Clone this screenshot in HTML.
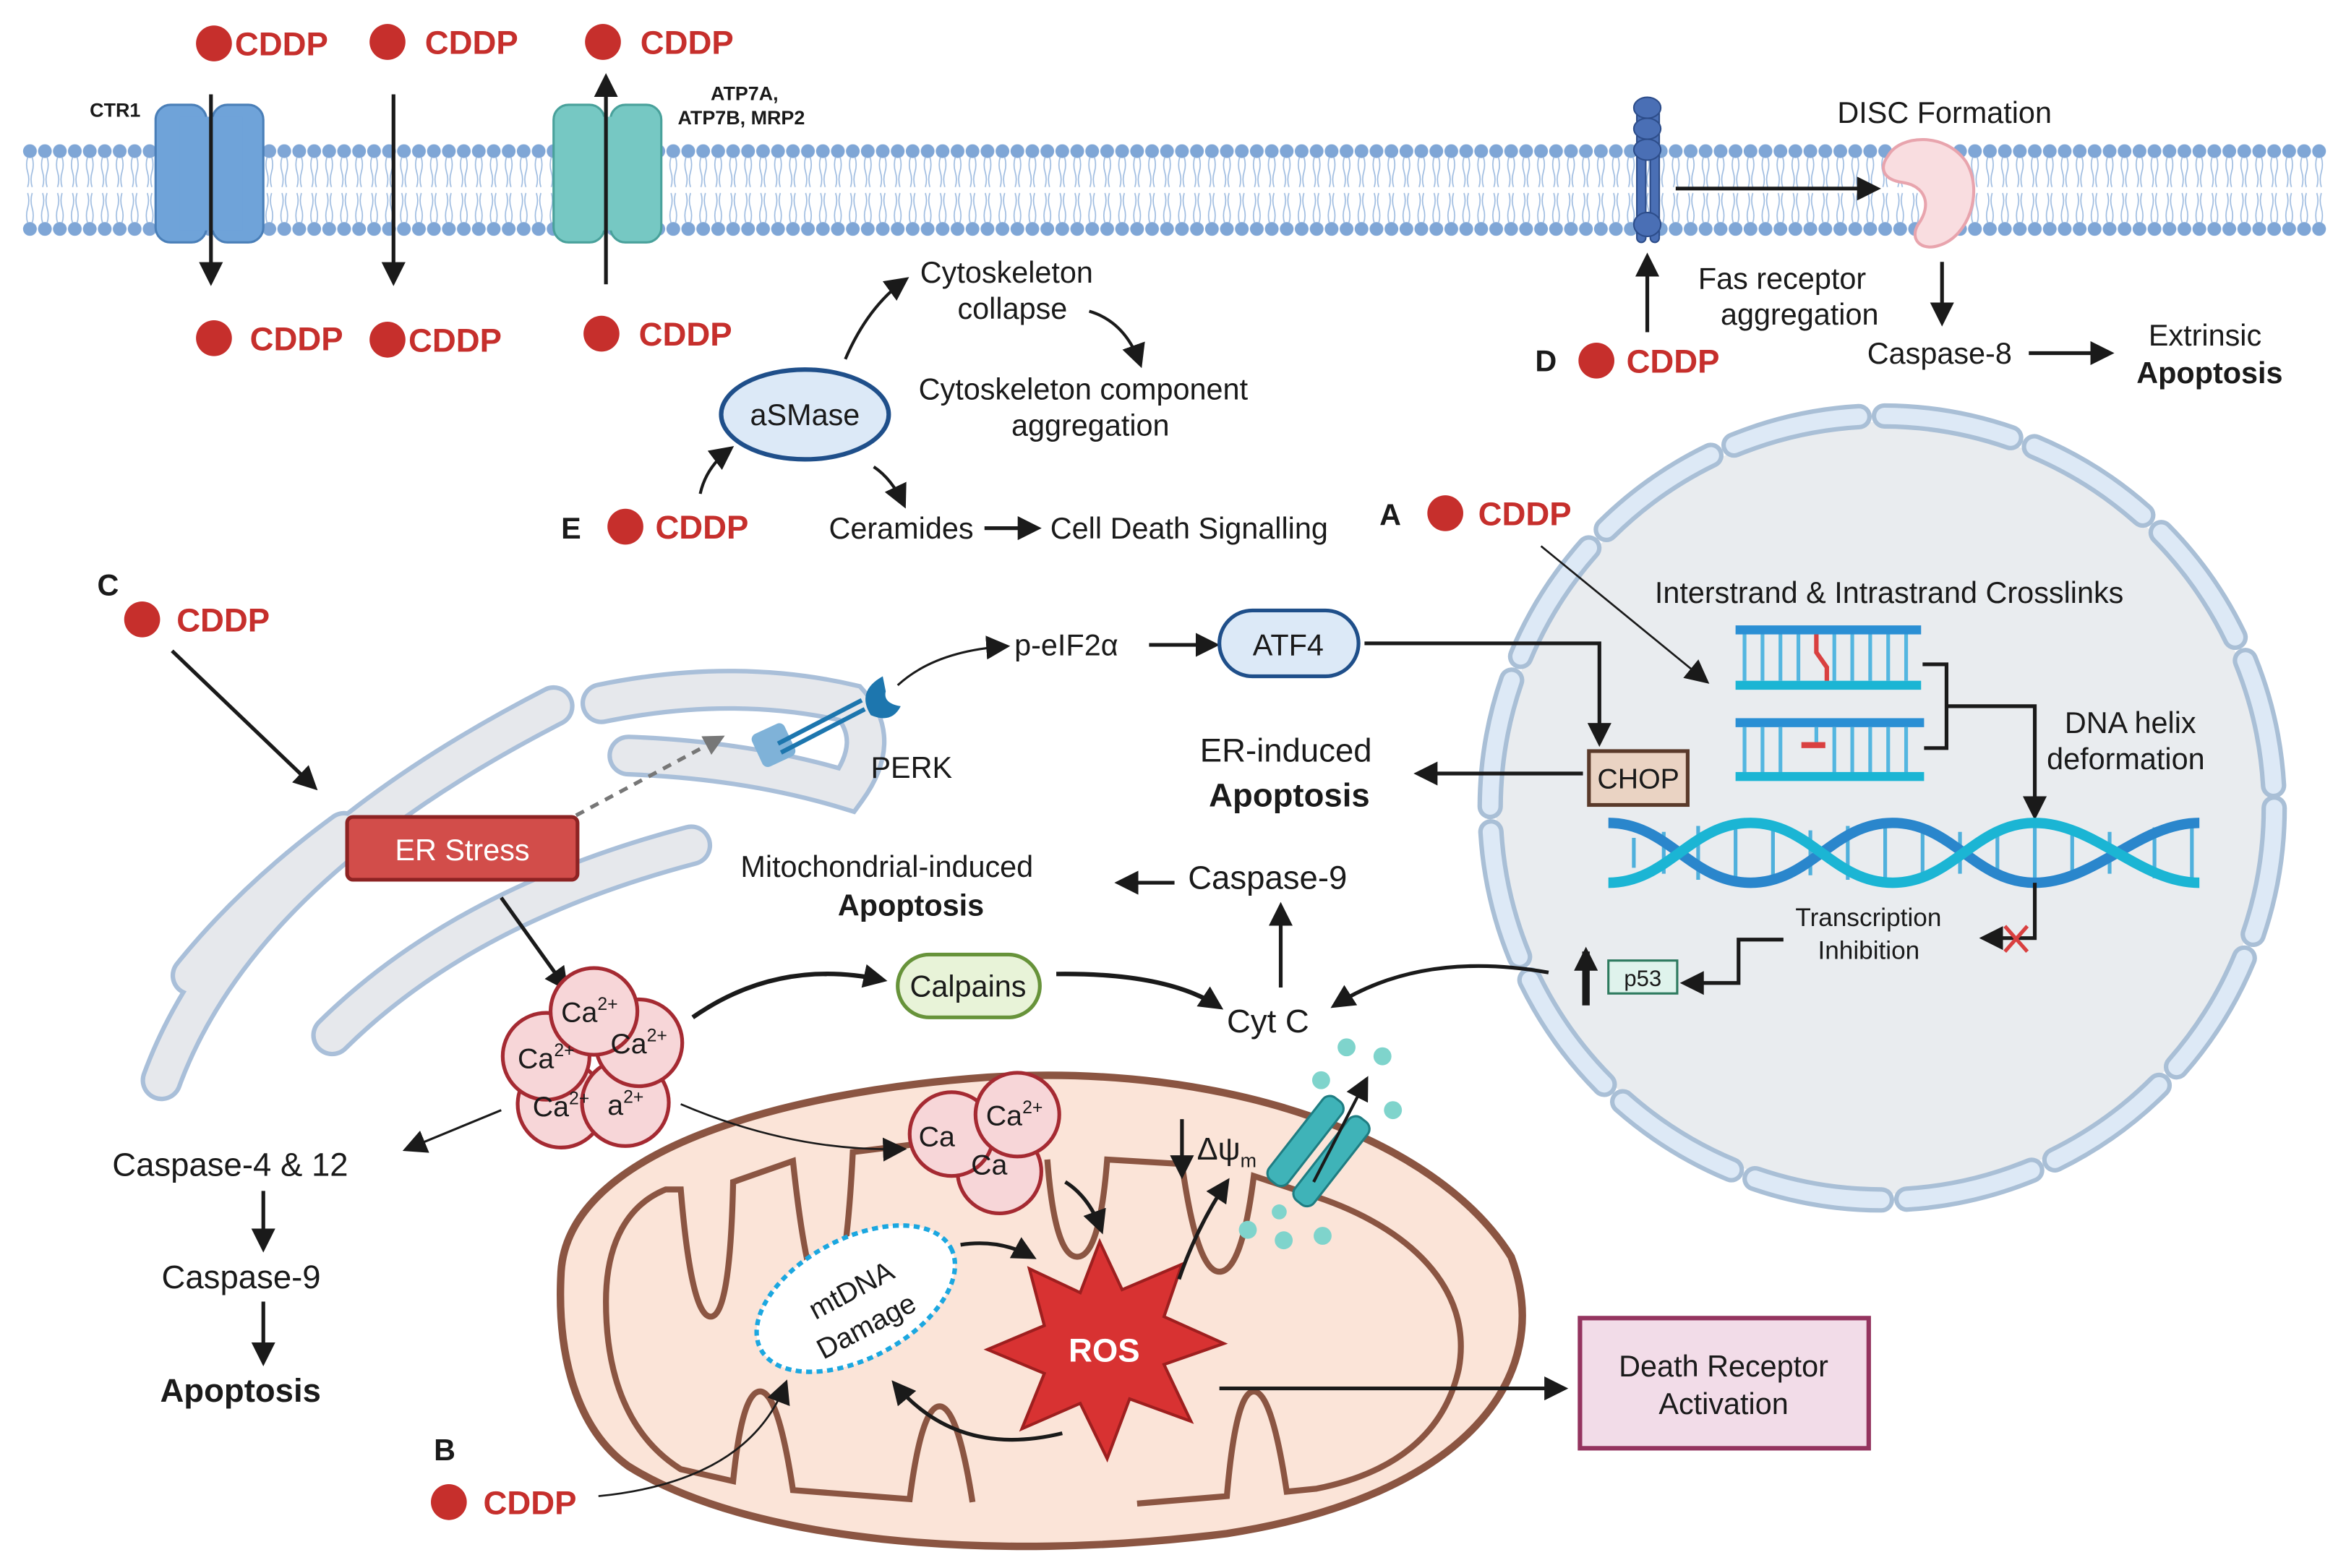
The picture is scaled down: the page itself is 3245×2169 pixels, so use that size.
<!DOCTYPE html>
<html><head><meta charset="utf-8"><style>
html,body{margin:0;padding:0;background:#fff;}
svg{display:block;}
text{font-family:"Liberation Sans",Arial,sans-serif;fill:#1a1a1a;}
.c{fill:#c62f2c;font-weight:bold;font-size:22px;}
.t{font-size:20px;}
.b{font-weight:bold;}
</style></head><body>
<svg width="3245" height="2169" viewBox="0 0 1568 1048" xmlns="http://www.w3.org/2000/svg">
<defs>
<marker id="a2" viewBox="0 0 10 10" markerWidth="16" markerHeight="16" refX="8" refY="5" orient="auto" markerUnits="userSpaceOnUse"><path d="M0,0 L10,5 L0,10 Z" fill="#1a1a1a"/></marker>
<marker id="ag" viewBox="0 0 10 10" markerWidth="14" markerHeight="14" refX="8" refY="5" orient="auto" markerUnits="userSpaceOnUse"><path d="M0,0 L10,5 L0,10 Z" fill="#777"/></marker>
<pattern id="mem" width="10" height="62" patternUnits="userSpaceOnUse" x="15" y="96">
<circle cx="5" cy="5" r="4.6" fill="#7fa6d6"/>
<circle cx="5" cy="57" r="4.6" fill="#7fa6d6"/>
<path d="M3.5 9 q-1.5 5 0 10 t0 10 M6.5 9 q1.5 5 0 10 t0 10 M3.5 53 q-1.5 -5 0 -10 t0 -10 M6.5 53 q1.5 -5 0 -10 t0 -10" stroke="#9dbbe0" stroke-width="0.8" fill="none"/>
</pattern>
</defs>
<rect width="1568" height="1048" fill="#fff"/>

<rect x="15" y="96" width="1540" height="62" fill="url(#mem)"/>

<rect x="104" y="70" width="34" height="92" rx="10" fill="#6fa3d9" stroke="#4a7fb8" stroke-width="1.5"/>
<rect x="142" y="70" width="34" height="92" rx="10" fill="#6fa3d9" stroke="#4a7fb8" stroke-width="1.5"/>
<rect x="120" y="78" width="42" height="76" fill="#6fa3d9"/>
<rect x="370" y="70" width="34" height="92" rx="10" fill="#76c8c3" stroke="#49a19b" stroke-width="1.5"/>
<rect x="408" y="70" width="34" height="92" rx="10" fill="#76c8c3" stroke="#49a19b" stroke-width="1.5"/>
<rect x="386" y="78" width="42" height="76" fill="#76c8c3"/>

<line x1="141" y1="63" x2="141" y2="188" stroke="#1a1a1a" stroke-width="2.5" marker-end="url(#a2)"/>
<line x1="263" y1="63" x2="263" y2="188" stroke="#1a1a1a" stroke-width="2.5" marker-end="url(#a2)"/>
<line x1="405" y1="190" x2="405" y2="52" stroke="#1a1a1a" stroke-width="2.5" marker-end="url(#a2)"/>

<text x="60" y="78" font-size="13" class="b">CTR1</text>
<text x="475" y="67" font-size="13" class="b">ATP7A,</text>
<text x="453" y="83" font-size="13" class="b">ATP7B, MRP2</text>

<circle cx="143" cy="29" r="12" fill="#c62f2c"/><text x="157" y="37" class="c">CDDP</text>
<circle cx="259" cy="28" r="12" fill="#c62f2c"/><text x="284" y="36" class="c">CDDP</text>
<circle cx="403" cy="28" r="12" fill="#c62f2c"/><text x="428" y="36" class="c">CDDP</text>
<circle cx="143" cy="226" r="12" fill="#c62f2c"/><text x="167" y="234" class="c">CDDP</text>
<circle cx="259" cy="227" r="12" fill="#c62f2c"/><text x="273" y="235" class="c">CDDP</text>
<circle cx="402" cy="223" r="12" fill="#c62f2c"/><text x="427" y="231" class="c">CDDP</text>

<g fill="#4a6fb5" stroke="#2d4d8a" stroke-width="1">
<rect x="1094" y="70" width="6" height="92" rx="3"/><rect x="1103" y="70" width="6" height="92" rx="3"/>
<ellipse cx="1101" cy="72" rx="9" ry="7"/><ellipse cx="1101" cy="86" rx="9" ry="7"/><ellipse cx="1101" cy="100" rx="9" ry="7"/>
<ellipse cx="1101" cy="150" rx="9" ry="8"/>
</g>
<line x1="1101" y1="222" x2="1101" y2="172" stroke="#1a1a1a" stroke-width="2.5" marker-end="url(#a2)"/>
<line x1="1120" y1="126" x2="1254" y2="126" stroke="#1a1a1a" stroke-width="2.5" marker-end="url(#a2)"/>
<text x="1228" y="82" class="t">DISC Formation</text>
<path d="M1262 104 C1270 90 1300 88 1314 108 C1326 128 1316 158 1296 164 C1284 168 1276 160 1282 150 C1292 136 1286 124 1272 122 C1258 120 1256 112 1262 104 Z" fill="#f9dde0" stroke="#e8a4ad" stroke-width="2"/>
<line x1="1298" y1="175" x2="1298" y2="215" stroke="#1a1a1a" stroke-width="2.5" marker-end="url(#a2)"/>
<text x="1135" y="193" class="t">Fas receptor</text>
<text x="1150" y="217" class="t">aggregation</text>
<text x="1026" y="248" class="t b">D</text>
<circle cx="1067" cy="241" r="12" fill="#c62f2c"/><text x="1087" y="249" class="c">CDDP</text>
<text x="1248" y="243" class="t">Caspase-8</text>
<line x1="1356" y1="236" x2="1410" y2="236" stroke="#1a1a1a" stroke-width="2.5" marker-end="url(#a2)"/>
<text x="1436" y="231" class="t">Extrinsic</text>
<text x="1428" y="256" class="t b">Apoptosis</text>

<ellipse cx="538" cy="277" rx="56" ry="30" fill="#dce9f7" stroke="#1f4f8a" stroke-width="3"/>
<text x="538" y="284" class="t" text-anchor="middle">aSMase</text>
<path d="M565 240 Q580 205 605 187" stroke="#1a1a1a" stroke-width="2" fill="none" marker-end="url(#a2)"/>
<text x="615" y="189" class="t">Cytoskeleton</text>
<text x="640" y="213" class="t">collapse</text>
<path d="M728 208 Q752 215 762 243" stroke="#1a1a1a" stroke-width="2" fill="none" marker-end="url(#a2)"/>
<text x="614" y="267" class="t">Cytoskeleton component</text>
<text x="676" y="291" class="t">aggregation</text>
<text x="375" y="360" class="t b">E</text>
<circle cx="418" cy="352" r="12" fill="#c62f2c"/><text x="438" y="360" class="c">CDDP</text>
<path d="M468 330 Q472 312 488 300" stroke="#1a1a1a" stroke-width="2" fill="none" marker-end="url(#a2)"/>
<path d="M584 312 Q596 320 604 337" stroke="#1a1a1a" stroke-width="2" fill="none" marker-end="url(#a2)"/>
<text x="554" y="360" class="t">Ceramides</text>
<line x1="658" y1="353" x2="693" y2="353" stroke="#1a1a1a" stroke-width="2.5" marker-end="url(#a2)"/>
<text x="702" y="360" class="t">Cell Death Signalling</text>

<!-- Nucleus -->
<circle cx="1258" cy="540" r="258" fill="#e9ecef"/>
<circle cx="1258" cy="540" r="262" fill="none" stroke="#a9bfd6" stroke-width="17" stroke-dasharray="86 17" stroke-linecap="round"/>
<circle cx="1258" cy="540" r="262" fill="none" stroke="#dde9f6" stroke-width="11" stroke-dasharray="86 17" stroke-linecap="round"/>

<text x="922" y="351" class="t b">A</text>
<circle cx="966" cy="343" r="12" fill="#c62f2c"/><text x="988" y="351" class="c">CDDP</text>
<line x1="1030" y1="365" x2="1140" y2="455" stroke="#1a1a1a" stroke-width="1.3" marker-end="url(#a2)"/>
<text x="1106" y="403" class="t">Interstrand &amp; Intrastrand Crosslinks</text>

<g>
<rect x="1160" y="418" width="124" height="6" fill="#2a8fd4"/>
<rect x="1160" y="455" width="124" height="6" fill="#1bb5d4"/>
<g stroke="#54b6e0" stroke-width="2.5"><line x1="1166" y1="424" x2="1166" y2="455"/><line x1="1178" y1="424" x2="1178" y2="455"/><line x1="1190" y1="424" x2="1190" y2="455"/><line x1="1202" y1="424" x2="1202" y2="455"/><line x1="1226" y1="424" x2="1226" y2="455"/><line x1="1238" y1="424" x2="1238" y2="455"/><line x1="1250" y1="424" x2="1250" y2="455"/><line x1="1262" y1="424" x2="1262" y2="455"/><line x1="1274" y1="424" x2="1274" y2="455"/></g>
<path d="M1214 424 L1214 436 L1221 446 L1221 455" stroke="#d94040" stroke-width="3" fill="none"/>
<rect x="1160" y="480" width="126" height="6" fill="#2a8fd4"/>
<rect x="1160" y="516" width="126" height="6" fill="#1bb5d4"/>
<g stroke="#54b6e0" stroke-width="2.5"><line x1="1166" y1="486" x2="1166" y2="516"/><line x1="1178" y1="486" x2="1178" y2="516"/><line x1="1190" y1="486" x2="1190" y2="516"/><line x1="1214" y1="486" x2="1214" y2="496"/><line x1="1226" y1="486" x2="1226" y2="516"/><line x1="1238" y1="486" x2="1238" y2="516"/><line x1="1250" y1="486" x2="1250" y2="516"/><line x1="1262" y1="486" x2="1262" y2="516"/><line x1="1274" y1="486" x2="1274" y2="516"/></g>
<rect x="1204" y="496" width="16" height="4" fill="#d94040"/>
</g>
<path d="M1285 444 L1301 444 L1301 500 L1286 500 M1301 472 L1360 472 L1360 545" stroke="#1a1a1a" stroke-width="2.5" fill="none" marker-end="url(#a2)"/>
<text x="1380" y="490" class="t">DNA helix</text>
<text x="1368" y="514" class="t">deformation</text>

<g stroke-width="2.5">
<g stroke="#4fb0dc"><line x1="1092" y1="560" x2="1092" y2="580"/><line x1="1112" y1="556" x2="1112" y2="584"/><line x1="1135" y1="552" x2="1135" y2="588"/><line x1="1160" y1="552" x2="1160" y2="588"/><line x1="1185" y1="555" x2="1185" y2="585"/><line x1="1210" y1="555" x2="1210" y2="585"/><line x1="1235" y1="552" x2="1235" y2="588"/><line x1="1260" y1="553" x2="1260" y2="587"/><line x1="1285" y1="556" x2="1285" y2="584"/><line x1="1310" y1="556" x2="1310" y2="584"/><line x1="1335" y1="553" x2="1335" y2="587"/><line x1="1360" y1="553" x2="1360" y2="587"/><line x1="1385" y1="556" x2="1385" y2="584"/><line x1="1410" y1="556" x2="1410" y2="584"/><line x1="1440" y1="553" x2="1440" y2="587"/><line x1="1465" y1="553" x2="1465" y2="587"/></g>
<path d="M1075 550 C1115 550 1130 590 1170 590 S1225 550 1265 550 S1320 590 1360 590 S1430 550 1470 550" stroke="#2a86cc" stroke-width="7" fill="none"/>
<path d="M1075 590 C1115 590 1130 550 1170 550 S1225 590 1265 590 S1320 550 1360 550 S1430 590 1470 590" stroke="#1bb5d4" stroke-width="7" fill="none"/>
</g>
<path d="M1360 590 L1360 627 L1326 627" stroke="#1a1a1a" stroke-width="2.5" fill="none" marker-end="url(#a2)"/>
<path d="M1340 619 L1355 636 M1355 619 L1340 636" stroke="#d94040" stroke-width="2.5"/>
<text x="1200" y="619" font-size="17">Transcription</text>
<text x="1215" y="641" font-size="17">Inhibition</text>
<path d="M1192 628 L1162 628 L1162 657 L1126 657" stroke="#1a1a1a" stroke-width="2.5" fill="none" marker-end="url(#a2)"/>
<rect x="1075" y="642" width="46" height="22" fill="#dff3ec" stroke="#2d7a5e" stroke-width="1.5"/>
<text x="1098" y="659" font-size="15" text-anchor="middle">p53</text>
<line x1="1060" y1="672" x2="1060" y2="636" stroke="#1a1a1a" stroke-width="5" marker-end="url(#a2)"/>
<path d="M1035 650 Q950 635 892 672" stroke="#1a1a1a" stroke-width="2.5" fill="none" marker-end="url(#a2)"/>

<text x="678" y="438" class="t">p-eIF2α</text>
<line x1="768" y1="431" x2="812" y2="431" stroke="#1a1a1a" stroke-width="2.5" marker-end="url(#a2)"/>
<rect x="815" y="408" width="93" height="44" rx="22" fill="#dce9f7" stroke="#1f4f8a" stroke-width="2.5"/>
<text x="861" y="438" class="t" text-anchor="middle">ATF4</text>
<path d="M912 430 L1069 430 L1069 496" stroke="#1a1a1a" stroke-width="2.5" fill="none" marker-end="url(#a2)"/>
<rect x="1062" y="502" width="66" height="36" fill="#ead3c3" stroke="#5a3a2a" stroke-width="2.5"/>
<text x="1095" y="527" font-size="19" text-anchor="middle">CHOP</text>
<line x1="1058" y1="517" x2="948" y2="517" stroke="#1a1a1a" stroke-width="2.5" marker-end="url(#a2)"/>
<text x="802" y="509" font-size="22">ER-induced</text>
<text x="808" y="539" font-size="22" class="b">Apoptosis</text>

<text x="794" y="594" font-size="22">Caspase-9</text>
<line x1="856" y1="660" x2="856" y2="606" stroke="#1a1a1a" stroke-width="2.5" marker-end="url(#a2)"/>
<line x1="785" y1="590" x2="748" y2="590" stroke="#1a1a1a" stroke-width="2.5" marker-end="url(#a2)"/>
<text x="495" y="586" class="t">Mitochondrial-induced</text>
<text x="560" y="612" class="t b">Apoptosis</text>
<text x="820" y="690" font-size="22">Cyt C</text>

<!-- ER -->
<g fill="none" stroke-linecap="round">
<g stroke="#a9bfd9" stroke-width="28">
<path d="M108 722 Q160 580 370 472"/>
<path d="M128 652 Q170 600 230 556"/>
<path d="M222 692 Q310 605 462 565"/>
<path d="M402 470 Q490 452 568 470 Q590 495 566 528 Q500 508 420 505"/>
</g>
<g stroke="#e6e8ec" stroke-width="22">
<path d="M108 722 Q160 580 370 472"/>
<path d="M128 652 Q170 600 230 556"/>
<path d="M222 692 Q310 605 462 565"/>
<path d="M402 470 Q490 452 568 470 Q590 495 566 528 Q500 508 420 505"/>
</g>
</g>
<g>
<rect x="505" y="486" width="24" height="24" rx="4" fill="#7fb2d8" transform="rotate(-25 517 498)"/>
<line x1="520" y1="497" x2="576" y2="468" stroke="#1d76ae" stroke-width="3"/>
<line x1="522" y1="503" x2="578" y2="474" stroke="#1d76ae" stroke-width="3"/>
<path d="M590 452 Q572 462 582 478 Q596 484 602 472 Q590 470 592 462 Z" fill="#1d76ae"/>
</g>
<text x="582" y="520" class="t">PERK</text>
<path d="M600 458 Q625 435 672 432" stroke="#1a1a1a" stroke-width="1.5" fill="none" marker-end="url(#a2)"/>

<rect x="232" y="546" width="154" height="42" rx="4" fill="#d24d4a" stroke="#8d2323" stroke-width="2.5"/>
<text x="309" y="575" class="t" text-anchor="middle" style="fill:#fff">ER Stress</text>
<line x1="385" y1="545" x2="482" y2="493" stroke="#777" stroke-width="2.5" stroke-dasharray="6 5" marker-end="url(#ag)"/>

<text x="65" y="398" class="t b">C</text>
<circle cx="95" cy="414" r="12" fill="#c62f2c"/><text x="118" y="422" class="c">CDDP</text>
<line x1="115" y1="435" x2="210" y2="526" stroke="#1a1a1a" stroke-width="2.5" marker-end="url(#a2)"/>
<line x1="335" y1="600" x2="378" y2="660" stroke="#1a1a1a" stroke-width="2.5" marker-end="url(#a2)"/>

<!-- Mitochondrion -->
<path d="M375 850 C380 770 520 730 660 720 C820 710 960 760 1010 840 C1040 920 980 1000 820 1025 C660 1045 500 1030 420 980 C385 955 372 905 375 850 Z" fill="#fbe4d8" stroke="#8b5542" stroke-width="5"/>
<path d="M405 870 C405 830 420 805 445 795 L455 795 Q462 880 475 880 Q488 880 490 790 L530 776 Q540 870 552 870 Q565 870 570 770 L610 765 M700 775 Q705 840 720 840 Q735 840 740 775 L790 778 Q800 850 815 850 Q830 850 838 786 L880 800 C940 820 985 860 975 915 C965 960 930 985 880 995 L860 997 Q850 930 838 930 Q826 930 820 1000 L760 1005 M650 1004 Q640 940 628 940 Q616 940 608 1002 L530 996 Q520 930 508 930 Q496 930 490 990 L455 982 C420 960 405 920 405 870" fill="none" stroke="#8b5542" stroke-width="4"/>

<ellipse cx="572" cy="868" rx="72" ry="40" transform="rotate(-28 572 868)" fill="#fff" stroke="#1ba7e0" stroke-width="3" stroke-dasharray="4 3"/>
<text x="572" y="868" font-size="19" text-anchor="middle" transform="rotate(-28 572 868)">mtDNA</text>
<text x="582" y="892" font-size="19" text-anchor="middle" transform="rotate(-28 582 892)">Damage</text>
<path d="M642 832 Q668 828 690 840" stroke="#1a1a1a" stroke-width="2.5" fill="none" marker-end="url(#a2)"/>
<path d="M710 958 Q640 975 598 925" stroke="#1a1a1a" stroke-width="2.5" fill="none" marker-end="url(#a2)"/>

<polygon points="735,830 750,862 790,845 778,880 818,898 778,912 796,950 755,935 740,975 722,938 683,955 698,918 660,902 698,886 688,848 722,864" fill="#d83232" stroke="#9e1f1f" stroke-width="2"/>
<text x="738" y="910" font-size="22" class="b" text-anchor="middle" style="fill:#fff">ROS</text>
<line x1="815" y1="928" x2="1045" y2="928" stroke="#1a1a1a" stroke-width="2.5" marker-end="url(#a2)"/>
<rect x="1056" y="881" width="193" height="87" fill="#f2dce8" stroke="#94345f" stroke-width="3"/>
<text x="1152" y="920" class="t" text-anchor="middle">Death Receptor</text>
<text x="1152" y="945" class="t" text-anchor="middle">Activation</text>

<g fill="#f7d6d8" stroke="#a52a32" stroke-width="2.5">
<circle cx="375" cy="738" r="29"/><circle cx="418" cy="737" r="29"/>
<circle cx="365" cy="706" r="29"/><circle cx="427" cy="697" r="29"/>
<circle cx="397" cy="676" r="29"/>
<circle cx="668" cy="783" r="28"/><circle cx="636" cy="758" r="28"/><circle cx="680" cy="745" r="28"/>
</g>
<g font-size="19">
<text x="375" y="683">Ca<tspan font-size="12" dy="-8">2+</tspan></text>
<text x="346" y="714">Ca<tspan font-size="12" dy="-8">2+</tspan></text>
<text x="408" y="704">Ca<tspan font-size="12" dy="-8">2+</tspan></text>
<text x="356" y="746">Ca<tspan font-size="12" dy="-8">2+</tspan></text>
<text x="406" y="745">a<tspan font-size="12" dy="-8">2+</tspan></text>
<text x="614" y="766">Ca</text>
<text x="659" y="752">Ca<tspan font-size="12" dy="-8">2+</tspan></text>
<text x="649" y="785">Ca</text>
</g>
<path d="M463 680 Q520 640 590 655" stroke="#1a1a1a" stroke-width="3" fill="none" marker-end="url(#a2)"/>
<rect x="600" y="638" width="95" height="42" rx="21" fill="#e8f3d8" stroke="#67933a" stroke-width="2.5"/>
<text x="647" y="666" class="t" text-anchor="middle">Calpains</text>
<path d="M706 651 Q780 650 815 673" stroke="#1a1a1a" stroke-width="3" fill="none" marker-end="url(#a2)"/>
<path d="M455 738 Q530 770 603 768" stroke="#1a1a1a" stroke-width="1.3" fill="none" marker-end="url(#a2)"/>
<path d="M712 790 Q728 800 736 822" stroke="#1a1a1a" stroke-width="2.5" fill="none" marker-end="url(#a2)"/>
<line x1="335" y1="742" x2="272" y2="768" stroke="#1a1a1a" stroke-width="1.5" marker-end="url(#a2)"/>

<line x1="790" y1="748" x2="790" y2="785" stroke="#1a1a1a" stroke-width="2.5" marker-end="url(#a2)"/>
<text x="800" y="775" font-size="21">Δψ<tspan font-size="13" dy="5">m</tspan></text>
<path d="M788 855 Q800 820 820 790" stroke="#1a1a1a" stroke-width="2.5" fill="none" marker-end="url(#a2)"/>
<g transform="rotate(38 882 770)">
<rect x="862" y="735" width="16" height="70" rx="6" fill="#3fb3b8" stroke="#1f7d82" stroke-width="1.5"/>
<rect x="884" y="735" width="16" height="70" rx="6" fill="#3fb3b8" stroke="#1f7d82" stroke-width="1.5"/>
</g>
<line x1="878" y1="790" x2="913" y2="722" stroke="#1a1a1a" stroke-width="2" marker-end="url(#a2)"/>
<g fill="#7fd4cc"><circle cx="883" cy="722" r="6"/><circle cx="900" cy="700" r="6"/><circle cx="924" cy="706" r="6"/><circle cx="931" cy="742" r="6"/><circle cx="834" cy="822" r="6"/><circle cx="858" cy="829" r="6"/><circle cx="884" cy="826" r="6"/><circle cx="855" cy="810" r="5"/></g>

<text x="75" y="786" font-size="22">Caspase-4 &amp; 12</text>
<line x1="176" y1="796" x2="176" y2="834" stroke="#1a1a1a" stroke-width="2.5" marker-end="url(#a2)"/>
<text x="108" y="861" font-size="22">Caspase-9</text>
<line x1="176" y1="870" x2="176" y2="910" stroke="#1a1a1a" stroke-width="2.5" marker-end="url(#a2)"/>
<text x="107" y="937" font-size="22" class="b">Apoptosis</text>

<text x="290" y="976" class="t b">B</text>
<circle cx="300" cy="1004" r="12" fill="#c62f2c"/><text x="323" y="1012" class="c">CDDP</text>
<path d="M400 1000 Q500 990 525 925" stroke="#1a1a1a" stroke-width="1.3" fill="none" marker-end="url(#a2)"/>
</svg>
</body></html>
